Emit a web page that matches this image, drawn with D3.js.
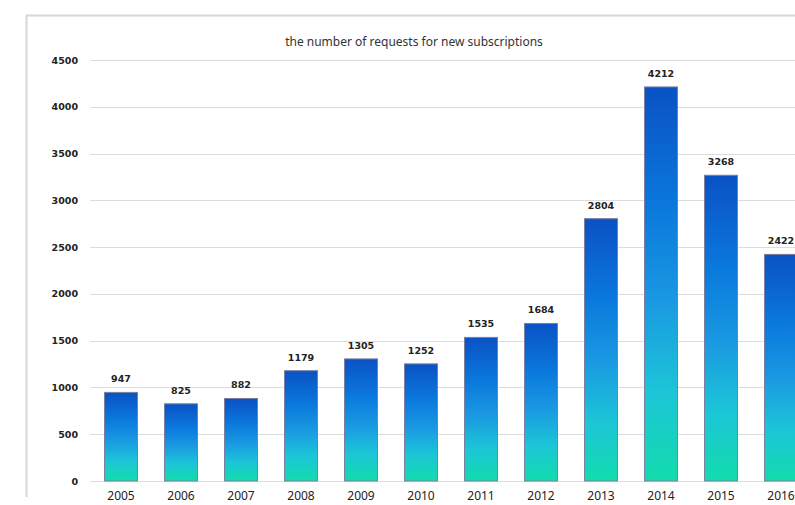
<!DOCTYPE html>
<html>
<head>
<meta charset="UTF-8">
<script src="https://d3js.org/d3.v7.min.js"></script>
<style>
  body { margin: 0; background: #fff; }
  svg { display: block; }
</style>
</head>
<body>
<script>
var years = ["2005", "2006", "2007", "2008", "2009", "2010", "2011", "2012", "2013", "2014", "2015", "2016"];
var requests = [947, 825, 882, 1179, 1305, 1252, 1535, 1684, 2804, 4212, 3268, 2422];
var yTicks = [0, 500, 1000, 1500, 2000, 2500, 3000, 3500, 4000, 4500];
var title = "the number of requests for new subscriptions";

var width = 795, height = 505;

var svg = d3.select("body").append("svg")
    .attr("width", width)
    .attr("height", height);

// gradient for the bars: dark blue on top, teal at the bottom
var grad = svg.append("defs").append("linearGradient")
    .attr("id", "barGrad")
    .attr("x1", 0).attr("y1", 0).attr("x2", 0).attr("y2", 1);
grad.append("stop").attr("offset", "0%").attr("stop-color", "#0a52c4");
grad.append("stop").attr("offset", "30%").attr("stop-color", "#0a78dc");
grad.append("stop").attr("offset", "55%").attr("stop-color", "#1a9ae2");
grad.append("stop").attr("offset", "78%").attr("stop-color", "#1cc6d6");
grad.append("stop").attr("offset", "100%").attr("stop-color", "#12dcac");

// outer frame (only top and left edges are visible)
svg.append("path")
    .attr("d", "M26.5,497 L26.5,15.5 L795,15.5")
    .attr("fill", "none")
    .attr("stroke", "#d6d6d6")
    .attr("stroke-width", 2);

var x = d3.scaleBand()
    .domain(years)
    .range([91, 811])
    .paddingInner(0.45)
    .paddingOuter(0.225);

var y = d3.scaleLinear()
    .domain([0, 4500])
    .range([481, 60]);

// grid lines
svg.append("g")
    .selectAll("line")
    .data(yTicks)
    .enter().append("line")
    .attr("x1", 90)
    .attr("x2", width)
    .attr("y1", function(d) { return Math.round(y(d)) + 0.5; })
    .attr("y2", function(d) { return Math.round(y(d)) + 0.5; })
    .attr("stroke", "#dcdcdc")
    .attr("stroke-width", 1);

// y axis labels
var yAxis = svg.append("g")
    .attr("transform", "translate(78,0)")
    .call(d3.axisLeft(y).tickValues(yTicks).tickFormat(d3.format("d")).tickSize(0).tickPadding(0));
yAxis.select(".domain").remove();
yAxis.selectAll("text")
    .attr("font-family", "'DejaVu Sans', sans-serif")
    .attr("font-size", "9.5px")
    .attr("font-weight", "bold")
    .attr("fill", "#222");

// bars
svg.append("g")
    .selectAll("rect")
    .data(requests)
    .enter().append("rect")
    .attr("x", function(d, i) { return x(years[i]); })
    .attr("y", function(d) { return y(d); })
    .attr("width", x.bandwidth())
    .attr("height", function(d) { return y(0) - y(d); })
    .attr("fill", "url(#barGrad)")
    .attr("stroke", "#7c7fa0")
    .attr("stroke-width", 1);

// value labels
svg.append("g")
    .selectAll("text")
    .data(requests)
    .enter().append("text")
    .attr("x", function(d, i) { return x(years[i]) + x.bandwidth() / 2; })
    .attr("y", function(d) { return y(d) - 10; })
    .attr("text-anchor", "middle")
    .attr("font-family", "'DejaVu Sans', sans-serif")
    .attr("font-size", "9.5px")
    .attr("font-weight", "bold")
    .attr("fill", "#222")
    .text(function(d) { return d; });

// x axis labels
var xAxis = svg.append("g")
    .attr("transform", "translate(0,481)")
    .call(d3.axisBottom(x).tickSize(0).tickPadding(10));
xAxis.select(".domain").remove();
xAxis.selectAll("text")
    .attr("font-family", "'Noto Sans', sans-serif")
    .attr("font-size", "12px")
    .attr("fill", "#222");

// title
svg.append("text")
    .attr("x", 414)
    .attr("y", 46)
    .attr("text-anchor", "middle")
    .attr("font-family", "'Noto Sans', sans-serif")
    .attr("font-size", "12px")
    .attr("fill", "#333")
    .text(title);
</script>
</body>
</html>
